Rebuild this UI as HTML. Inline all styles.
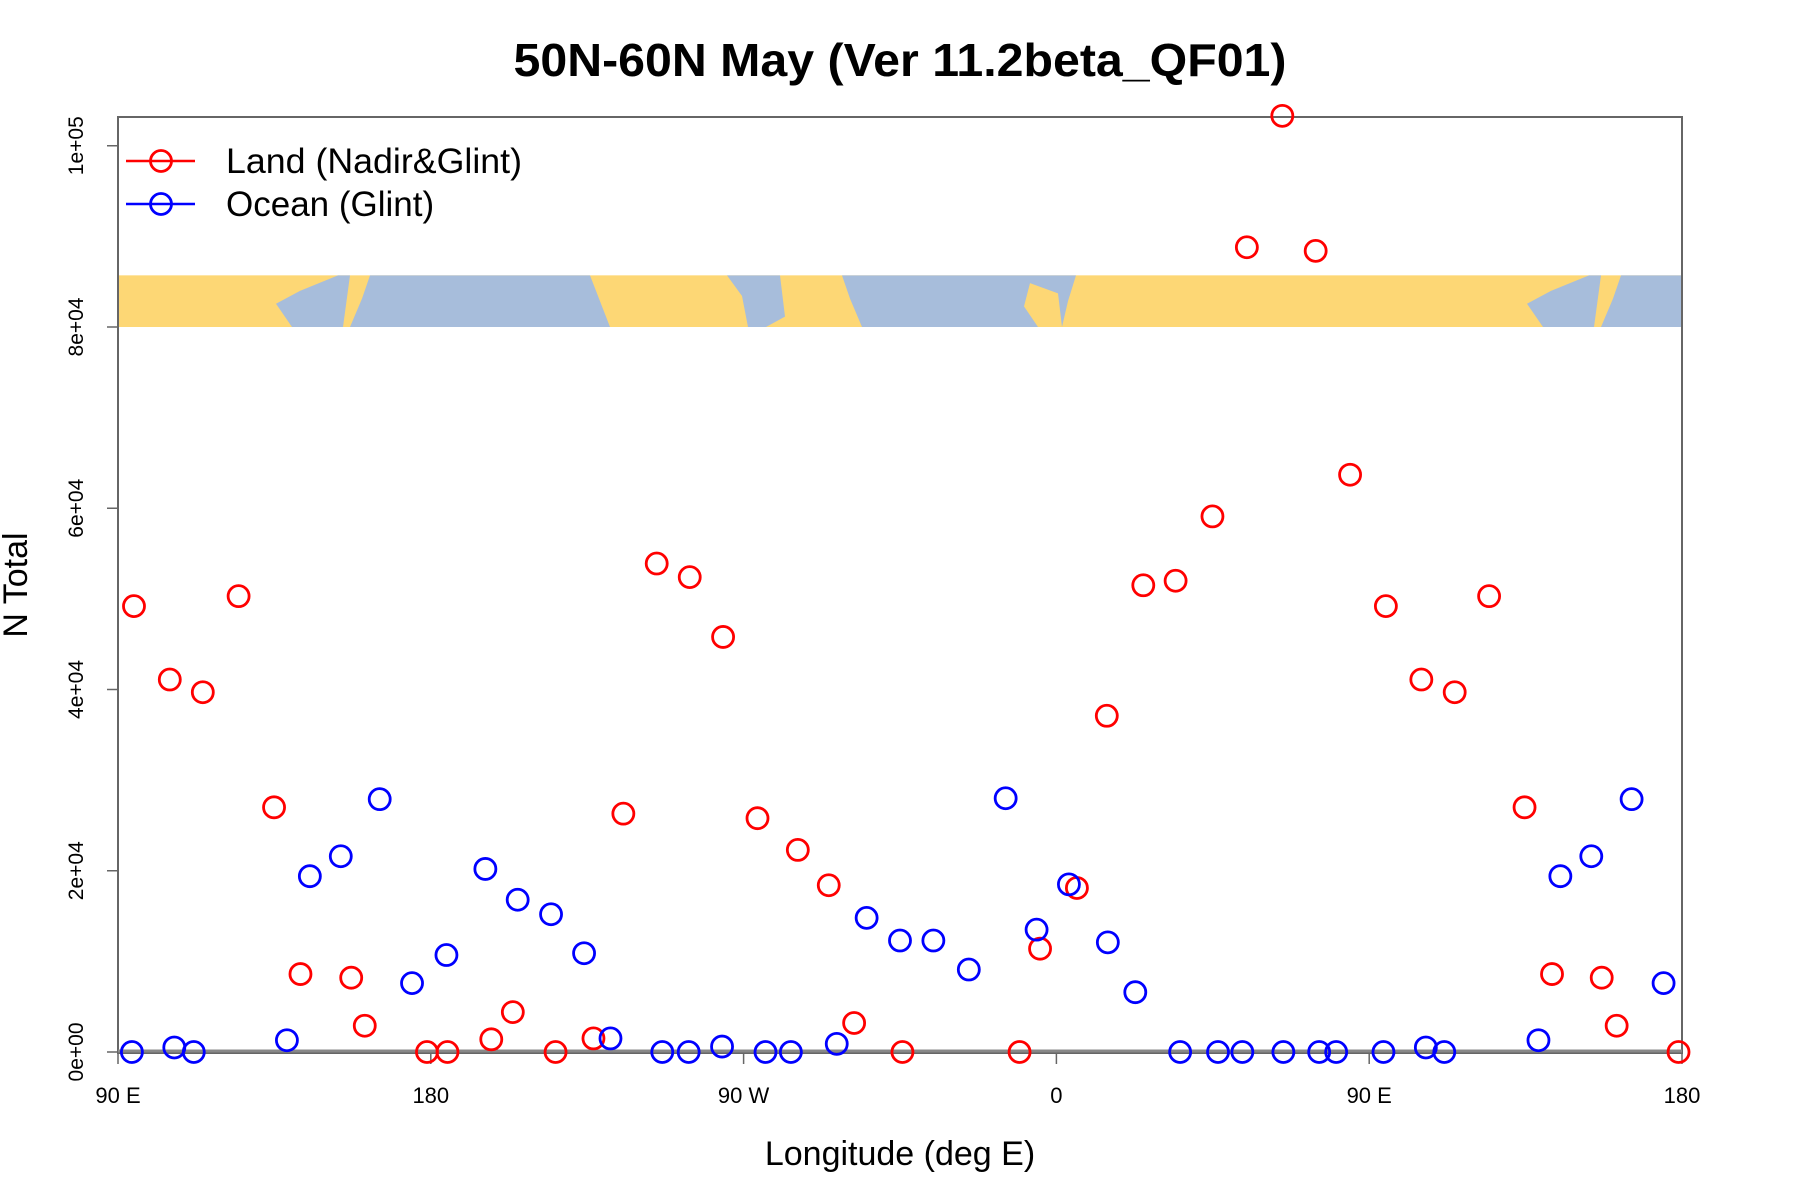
<!DOCTYPE html>
<html><head><meta charset="utf-8"><style>
html,body{margin:0;padding:0;background:#fff}
svg{display:block;font-family:"Liberation Sans",sans-serif}
</style></head><body>
<svg id="chart" width="1800" height="1200" viewBox="0 0 1800 1200" xmlns="http://www.w3.org/2000/svg">
<text x="900" y="76" text-anchor="middle" font-size="46" font-weight="bold" textLength="773" lengthAdjust="spacingAndGlyphs">50N-60N May (Ver 11.2beta_QF01)</text>
<g id="map"></g>
<g id="axes"></g>
<g id="marks"></g>
<g>
  <line x1="126" y1="161" x2="195" y2="161" stroke="#ff0000" stroke-width="2.5"/>
  <circle cx="161" cy="161" r="10.5" fill="none" stroke="#ff0000" stroke-width="2.8"/>
  <text x="226" y="173" font-size="35" textLength="296" lengthAdjust="spacingAndGlyphs">Land (Nadir&amp;Glint)</text>
  <line x1="126" y1="204" x2="195" y2="204" stroke="#0000ff" stroke-width="2.5"/>
  <circle cx="161" cy="204" r="10.5" fill="none" stroke="#0000ff" stroke-width="2.8"/>
  <text x="226" y="216" font-size="35">Ocean (Glint)</text>
</g>
<text x="900" y="1165" text-anchor="middle" font-size="34">Longitude (deg E)</text>
<text transform="translate(27,585) rotate(-90)" text-anchor="middle" font-size="34">N Total</text>
</svg>
<script>
const landLon=[94.6,104.9,114.4,124.7,134.9,142.5,157.1,161.0,178.9,184.8,197.4,203.6,215.9,226.8,235.4,245.0,254.5,264.1,274.0,285.6,294.5,301.8,315.7,349.4,355.3,365.9,374.5,385.0,394.3,404.9,414.8,425.0,434.6,444.5,454.8,465.0,474.6,484.5,494.7,502.6,516.9,521.2,539.0];
const landVal=[49200,41100,39700,50300,27000,8600,8200,2900,0,0,1400,4400,0,1500,26300,53900,52400,45800,25800,22300,18400,3200,0,0,11400,18100,37100,51500,52000,59100,88800,103300,88400,63700,49200,41100,39700,50300,27000,8600,8200,2900,0];
const oceanLon=[94.0,106.2,111.8,138.6,145.2,154.1,165.3,174.6,184.5,195.7,205.0,214.6,224.1,231.7,246.6,254.2,263.8,276.3,283.6,296.8,305.4,315.0,324.6,334.8,345.4,354.3,363.6,374.8,382.7,395.6,406.5,413.5,425.3,435.6,440.5,454.1,466.3,471.6,498.7,505.0,513.9,525.5,534.7];
const oceanVal=[0,500,0,1300,19400,21600,27900,7600,10700,20200,16800,15200,10900,1500,0,0,600,0,0,900,14800,12300,12300,9100,28000,13500,18500,12100,6600,0,0,0,0,0,0,0,500,0,1300,19400,21600,27900,7600];
const xTickVals=[90,180,270,360,450,540];
const xTickLabels=["90 E","180","90 W","0","90 E","180"];
const yTickVals=[0,20000,40000,60000,80000,100000];
const yTickLabels=["0e+00","2e+04","4e+04","6e+04","8e+04","1e+05"];

const NS="http://www.w3.org/2000/svg";
const L=118,R=1682,T=117,B=1053;
function xs(lon){return L+(lon-90)*(R-L)/450;}
function ys(v){return 1052-v*181.25/20000;}
function mk(tag,attrs,parent){const e=document.createElementNS(NS,tag);for(const k in attrs)e.setAttribute(k,attrs[k]);parent.appendChild(e);return e;}

const map=document.getElementById('map');
const mT=ys(85700),mB=ys(80000);
let r=mk('rect',{x:L,y:mT,width:R-L,height:mB-mT,fill:'#fdd775'},map);


const h=mB-mT;
function poly(pts){const p=mk('polygon',{points:pts.map(q=>q[0]+','+(mT+q[1]*h)).join(' '),fill:'#a7bddb'},map);

}
function okh(dx){poly([[338+dx,0],[350+dx,0],[343+dx,1],[292+dx,1],[276+dx,0.55],[300+dx,0.3]]);
poly([[370+dx,0],[Math.min(590+dx,R),0],[Math.min(610+dx,R),1],[350+dx,1],[362+dx,0.45]]);}
okh(0);okh(1251);
poly([[727,0],[780,0],[785,0.8],[766,1],[748,1],[742,0.4]]);
poly([[842,0],[1076,0],[1068,0.5],[1062,1],[862,1],[850,0.45]]);
let uk=mk('polygon',{points:[[1030,0.15],[1058,0.35],[1062,1],[1038,1],[1024,0.6]].map(q=>q[0]+','+(mT+q[1]*h)).join(' '),fill:'#fdd775'},map);



const ax=document.getElementById('axes');
let box=mk('rect',{x:L,y:T,width:R-L,height:B-T,fill:'none',stroke:'#666','stroke-width':2},ax);


let zl=mk('line',{x1:L,y1:ys(0)-1,x2:R,y2:ys(0)-1,stroke:'#888','stroke-width':3},ax);


xTickVals.forEach((v,i)=>{
  const x=xs(v);
  mk('line',{x1:x,y1:B,x2:x,y2:B+11,stroke:'#666','stroke-width':1.5},ax);
  const t=mk('text',{x:x,y:1103,'text-anchor':'middle','font-size':22},ax);
  t.textContent=xTickLabels[i];
  
  
});
yTickVals.forEach((v,i)=>{
  const y=ys(v);
  mk('line',{x1:L-11,y1:y,x2:L,y2:y,stroke:'#666','stroke-width':1.5},ax);
  const t=mk('text',{'text-anchor':'middle','font-size':21,transform:'translate(83,'+y+') rotate(-90)'},ax);
  t.textContent=yTickLabels[i];
  
  
});

const g=document.getElementById('marks');
landLon.forEach((lon,i)=>{
  const c=mk('circle',{cx:xs(lon),cy:ys(landVal[i]),r:10.5,fill:'none',stroke:'#ff0000','stroke-width':2.8},g);
  
  
});
oceanLon.forEach((lon,i)=>{
  const c=mk('circle',{cx:xs(lon),cy:ys(oceanVal[i]),r:10.5,fill:'none',stroke:'#0000ff','stroke-width':2.8},g);
  
  
});
</script>
</body></html>
